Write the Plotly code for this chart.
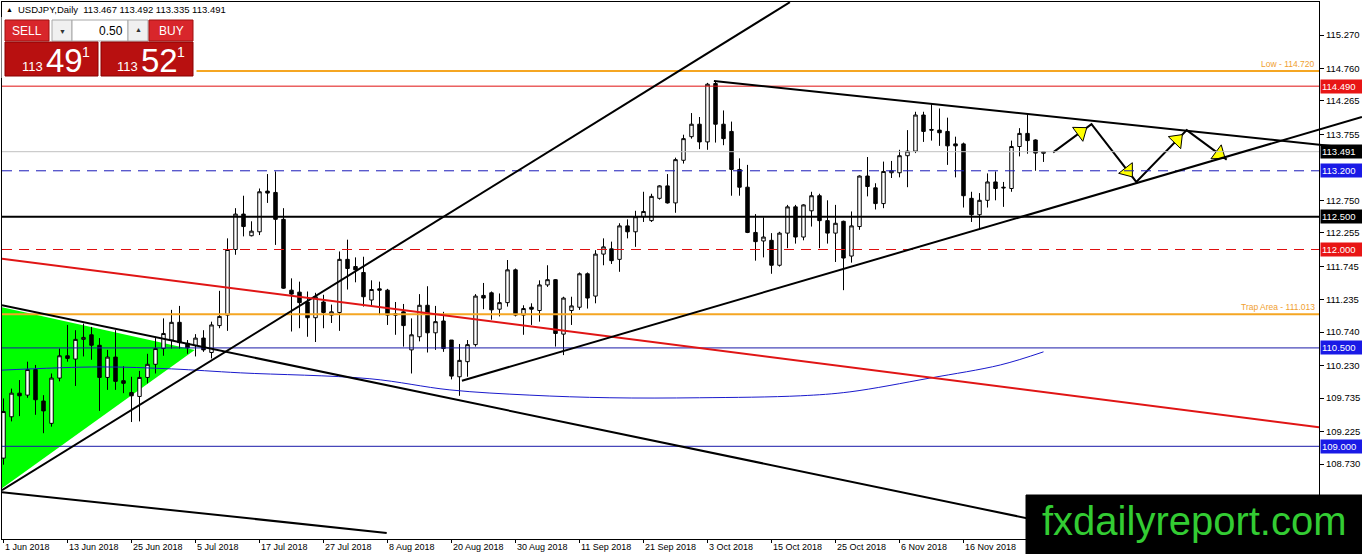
import math
import plotly.graph_objects as go

# USDJPY daily, bar 0 = 1 Jun 2018 ... bar 130 = 30 Nov 2018
opens = [108.82, 109.45, 109.81, 109.78, 110.17, 109.69, 109.35, 110.04, 110.38, 110.33,
         110.63, 110.70, 110.54, 110.05, 110.36, 110.00, 109.82, 109.76, 110.05, 110.25,
         110.49, 110.62, 110.89, 110.57, 110.535, 110.65, 110.43, 110.84, 111.00, 112.00,
         112.54, 112.21, 112.27, 112.89, 112.87, 112.46, 111.38, 111.35, 111.20, 110.96,
         111.20, 111.00, 111.04, 111.85, 111.74, 111.65, 111.23, 111.40, 111.38, 111.02,
         111.05, 110.47, 110.67, 111.15, 110.73, 110.91, 110.62, 110.06, 110.29, 110.55,
         111.30, 111.34, 111.09, 111.19, 111.69, 111.00, 111.12, 111.07, 111.46, 111.54,
         110.71, 111.07, 111.12, 111.63, 111.29, 111.93, 112.01, 111.85, 112.36, 112.27,
         112.50, 112.44, 112.78, 112.97, 112.71, 113.36, 113.72, 113.91, 113.64, 114.53,
         113.91, 113.80, 113.22, 112.95, 112.26, 112.13, 112.14, 111.76, 112.25, 112.65,
         112.19, 112.59, 112.82, 112.44, 112.25, 112.43, 111.90, 112.35, 113.12, 112.94,
         112.70, 113.17, 113.17, 113.43, 113.50, 114.05, 113.83, 113.82, 113.80, 113.61,
         113.61, 112.78, 112.53, 112.75, 113.03, 112.95, 112.93, 113.57, 113.77, 113.67,
         113.467]
highs = [109.73, 109.88, 110.01, 110.29, 110.24, 109.78, 110.11, 110.49, 110.85, 110.77,
         110.87, 110.82, 110.65, 110.47, 110.77, 110.22, 110.06, 110.15, 110.41, 110.65,
         110.95, 111.08, 111.14, 110.62, 110.71, 110.77, 110.90, 111.37, 112.17, 112.63,
         112.82, 112.43, 112.93, 113.15, 113.19, 112.63, 111.56, 111.51, 111.36, 111.34,
         111.31, 111.16, 111.97, 112.15, 111.88, 111.89, 111.53, 111.51, 111.40, 111.20,
         111.17, 110.95, 111.32, 111.44, 111.14, 111.05, 110.62, 110.56, 110.62, 111.32,
         111.49, 111.36, 111.33, 111.84, 111.71, 111.15, 111.18, 111.53, 111.76, 111.55,
         111.28, 111.28, 111.65, 111.65, 111.99, 112.17, 112.12, 112.40, 112.46, 112.59,
         112.88, 112.85, 112.98, 113.15, 113.40, 113.75, 114.08, 114.02, 114.54, 114.56,
         114.12, 113.95, 113.39, 113.29, 112.54, 112.49, 112.25, 112.27, 112.68, 112.68,
         112.69, 112.88, 112.85, 112.75, 112.68, 112.44, 112.58, 113.13, 113.41, 113.01,
         113.34, 113.35, 113.52, 113.82, 114.10, 114.10, 114.22, 114.15, 114.01, 113.72,
         113.63, 112.88, 112.86, 113.16, 113.19, 113.03, 113.66, 113.85, 114.07, 113.68,
         113.492]
lows = [108.72, 109.38, 109.46, 109.74, 109.48, 109.20, 109.30, 109.99, 110.29, 109.92,
        110.37, 110.32, 109.54, 109.86, 109.86, 109.81, 109.37, 109.38, 109.96, 110.11,
        110.38, 110.49, 110.49, 110.41, 110.37, 110.44, 110.34, 110.80, 110.76, 111.92,
        112.20, 112.20, 112.22, 112.71, 112.07, 111.40, 110.75, 110.80, 110.67, 110.59,
        110.80, 110.88, 110.76, 111.39, 111.50, 111.13, 111.13, 111.00, 110.85, 110.70,
        110.52, 110.11, 110.60, 110.43, 110.47, 110.44, 110.02, 109.77, 110.06, 110.52,
        111.09, 110.93, 110.98, 111.13, 110.98, 110.70, 110.85, 110.90, 111.43, 110.52,
        110.39, 110.85, 111.08, 111.10, 111.18, 111.76, 111.78, 111.66, 112.17, 112.04,
        112.42, 112.42, 112.76, 112.70, 112.56, 113.31, 113.69, 113.53, 113.52, 113.63,
        113.59, 112.82, 112.82, 112.25, 111.83, 111.88, 111.63, 111.74, 112.02, 112.09,
        112.14, 112.35, 112.02, 112.09, 111.81, 111.38, 111.80, 112.30, 112.81, 112.61,
        112.63, 113.09, 113.10, 112.95, 113.47, 113.64, 113.66, 113.58, 113.29, 113.10,
        112.64, 112.42, 112.31, 112.64, 112.75, 112.65, 112.88, 113.42, 113.46, 113.20,
        113.335]
closes = [109.53, 109.81, 109.77, 110.17, 109.71, 109.54, 110.04, 110.38, 110.34, 110.63,
          110.66, 110.54, 110.05, 110.36, 109.99, 109.96, 109.77, 110.05, 110.25, 110.49,
          110.72, 110.89, 110.58, 110.50, 110.65, 110.47, 110.85, 110.98, 112.00, 112.54,
          112.35, 112.28, 112.88, 112.86, 112.46, 111.41, 111.32, 111.19, 110.96, 111.28,
          111.04, 111.05, 111.85, 111.71, 111.69, 111.28, 111.39, 111.38, 111.00, 111.00,
          110.84, 110.70, 111.15, 110.73, 110.90, 110.49, 110.07, 110.31, 110.55, 111.29,
          111.26, 111.08, 111.19, 111.69, 111.00, 111.10, 111.09, 111.46, 111.54, 110.72,
          111.26, 111.14, 111.63, 111.26, 111.93, 112.04, 111.83, 112.36, 112.27, 112.50,
          112.58, 112.81, 112.97, 112.71, 113.37, 113.69, 113.91, 113.64, 114.52, 113.91,
          113.69, 113.22, 112.95, 112.26, 112.12, 112.19, 111.76, 112.25, 112.65, 112.19,
          112.68, 112.82, 112.44, 112.25, 112.40, 111.87, 112.36, 113.12, 112.96, 112.70,
          113.19, 113.20, 113.43, 113.50, 114.05, 113.80, 113.82, 113.78, 113.58, 113.58,
          112.82, 112.53, 112.75, 113.03, 112.93, 112.94, 113.57, 113.77, 113.66, 113.47,
          113.491]

date_labels = ["1 Jun 2018", "13 Jun 2018", "25 Jun 2018", "5 Jul 2018", "17 Jul 2018",
               "27 Jul 2018", "8 Aug 2018", "20 Aug 2018", "30 Aug 2018", "11 Sep 2018",
               "21 Sep 2018", "3 Oct 2018", "15 Oct 2018", "25 Oct 2018", "6 Nov 2018",
               "16 Nov 2018"]
date_label_bars = [0, 8, 16, 24, 32, 40, 48, 56, 64, 72, 80, 88, 96, 104, 112, 120]

# visible scale labels (113.245 and 108.220 sit under the tag / logo in the original)
price_ticks = [115.270, 114.760, 114.265, 113.755, 112.750, 112.255, 111.745,
               111.235, 110.740, 110.230, 109.735, 109.225, 108.730]

# moving average (thin blue curve), sampled along the chart
ma_bars = [-0.4, 12, 21, 29.6, 45.8, 55.8, 65.8, 75.8, 87, 99.6, 105.8, 115.8, 124.6, 130]
ma_values = [110.16, 110.21, 110.18, 110.12, 110.03, 109.86, 109.78, 109.74, 109.74,
             109.77, 109.83, 110.04, 110.24, 110.44]

# horizontal levels drawn on the chart
level_prices = [114.720, 114.490, 113.491, 113.200, 112.500, 112.000, 111.013, 110.500, 109.000]
level_names = ["Low - 114.720", "", "", "", "", "", "Trap Area - 111.013", "", ""]
tagged_levels = [114.490, 113.491, 113.200, 112.500, 112.000, 110.500, 109.000]

# trendlines as (bar, price) end points
channel_up = [(-0.19, 108.33), (98.3, 115.77)]
fan_down = [(-0.19, 111.15), (139.9, 107.60)]
base_down = [(-0.19, 108.30), (47.9, 107.68)]
red_down = [(-0.19, 111.86), (164.44, 109.29)]
support_up = [(57.3, 110.00), (169.8, 114.02)]
resist_down = [(88.8, 114.57), (169.8, 113.53)]
green_triangle = [(-0.19, 111.12), (23.9, 110.47), (-0.19, 108.36)]

# projected zig-zag path
path_bars = [131.2, 136.0, 141.6, 147.9, 152.9]
path_prices = [113.48, 113.91, 113.03, 113.82, 113.37]

# ---------------------------------------------------------------- layout maths
W, H = 1362, 554
ML, MR, MT, MB = 2, 43, 2, 15
PW, PH = W - ML - MR, H - MT - MB
X_RANGE = [-0.1875, 164.4375]
Y_RANGE = [107.587, 115.773]
PX_BAR = PW / (X_RANGE[1] - X_RANGE[0])
PX_PRICE = PH / (Y_RANGE[1] - Y_RANGE[0])


def pp(px, py):
    """page pixel -> paper coords"""
    return (px - ML) / PW, (H - MB - py) / PH


def dp(bar, price):
    """data -> paper coords"""
    return ((bar - X_RANGE[0]) / (X_RANGE[1] - X_RANGE[0]),
            (price - Y_RANGE[0]) / (Y_RANGE[1] - Y_RANGE[0]))


shapes = []
annotations = []

# green triangle, behind the candles
shapes.append(dict(type="path", xref="x", yref="y", layer="below",
                   path="M {} {} L {} {} L {} {} Z".format(*[v for pt in green_triangle for v in pt]),
                   fillcolor="#00ff00", line=dict(width=0)))

level_style = {
    114.720: dict(color="#f5a623", width=2, dash="solid"),
    114.490: dict(color="#e01010", width=1, dash="solid"),
    113.491: dict(color="#c0c0c0", width=1, dash="solid"),
    113.200: dict(color="#1a1ab8", width=1, dash="10px,7px"),
    112.500: dict(color="#000000", width=2, dash="solid"),
    112.000: dict(color="#e01010", width=1, dash="10px,7px"),
    111.013: dict(color="#f5a623", width=2, dash="solid"),
    110.500: dict(color="#1a1aa8", width=1, dash="solid"),
    109.000: dict(color="#1a1aa8", width=1, dash="solid"),
}
tag_bg = {114.490: "#e81515", 113.491: "#000000", 113.200: "#1a1ae6", 112.500: "#000000",
          112.000: "#e81515", 110.500: "#1a1ae6", 109.000: "#1a1ae6"}

for p, name in zip(level_prices, level_names):
    shapes.append(dict(type="line", xref="paper", yref="y", x0=0, x1=1, y0=p, y1=p,
                       line=level_style[p], layer="above"))
    if name:
        annotations.append(dict(text=name, xref="paper", yref="y", x=1, y=p, xanchor="right",
                                yanchor="bottom", xshift=-2, yshift=0, showarrow=False,
                                font=dict(size=8.5, color="#f0a030")))

for line, color in [(channel_up, "black"), (fan_down, "black"), (base_down, "black"),
                    (red_down, "#e01515")]:
    (b0, p0), (b1, p1) = line
    shapes.append(dict(type="line", xref="x", yref="y", x0=b0, y0=p0, x1=b1, y1=p1,
                       line=dict(color=color, width=2), layer="above"))

# these two rays run on over the price scale, so draw them in paper space
for line in [support_up, resist_down]:
    (x0, y0), (x1, y1) = dp(*line[0]), dp(*line[1])
    shapes.append(dict(type="line", xref="paper", yref="paper", x0=x0, y0=y0, x1=x1, y1=y1,
                       line=dict(color="black", width=2), layer="above"))

fig = go.Figure()
fig.add_trace(go.Candlestick(
    x=list(range(len(opens))), open=opens, high=highs, low=lows, close=closes,
    increasing=dict(line=dict(color="black", width=1), fillcolor="white"),
    decreasing=dict(line=dict(color="black", width=1), fillcolor="black"),
    whiskerwidth=0, hoverinfo="skip"))

fig.add_trace(go.Scatter(x=ma_bars, y=ma_values, mode="lines", line=dict(color="#1a1acc", width=1, shape="spline"),
                         hoverinfo="skip"))

fig.add_trace(go.Scatter(x=path_bars, y=path_prices, mode="lines", line=dict(color="black", width=2),
                         hoverinfo="skip"))

# yellow arrow heads near the end of each leg
head_x, head_y, head_ang = [], [], []
for i in range(len(path_bars) - 1):
    b0, b1 = path_bars[i], path_bars[i + 1]
    p0, p1 = path_prices[i], path_prices[i + 1]
    t = 0.72 if i == 0 else 0.81
    head_x.append(b0 + t * (b1 - b0))
    head_y.append(p0 + t * (p1 - p0))
    head_ang.append(math.degrees(math.atan2((b1 - b0) * PX_BAR, (p1 - p0) * PX_PRICE)))
fig.add_trace(go.Scatter(x=head_x, y=head_y, mode="markers", hoverinfo="skip",
                         marker=dict(symbol="triangle-up", size=15, angle=head_ang, color="#ffff00",
                                     line=dict(color="black", width=1))))

# price tags on the scale
for p in tagged_levels:
    annotations.append(dict(text="%.3f" % p, xref="paper", yref="y", x=1, y=p, xanchor="left",
                            yanchor="middle", xshift=1, showarrow=False, bgcolor=tag_bg[p],
                            width=40, align="left", borderpad=1,
                            font=dict(size=9.5, color="white")))

# date labels start at their tick like MT4
for b, lab in zip(date_label_bars, date_labels):
    annotations.append(dict(text=lab, xref="x", yref="paper", x=b, y=0, xanchor="left",
                            yanchor="top", xshift=-1, yshift=-1, showarrow=False,
                            font=dict(size=9, color="black")))


def rect(x0, y0, x1, y1, fill, edge=None):
    a, b = pp(x0, y0)
    c, d = pp(x1, y1)
    shapes.append(dict(type="rect", xref="paper", yref="paper", x0=a, y0=b, x1=c, y1=d,
                       fillcolor=fill, layer="above",
                       line=dict(color=edge or fill, width=1)))


def label(txt, px, py, size, color, anchor="center", family=None):
    x, y = pp(px, py)
    f = dict(size=size, color=color)
    if family:
        f["family"] = family
    annotations.append(dict(text=txt, xref="paper", yref="paper", x=x, y=y, xanchor=anchor,
                            yanchor="middle", showarrow=False, font=f, borderpad=0))


# one-click trading panel
rect(2, 17, 196, 78, "white")
rect(5, 20, 49, 41, "#d8262b", "#a01010")
rect(52, 20, 72, 41, "#f0f0f0", "#a8a8a8")
rect(72, 20, 128, 41, "white", "#a8a8a8")
rect(128, 20, 148, 41, "#f0f0f0", "#a8a8a8")
rect(149, 20, 193, 41, "#d8262b", "#a01010")
rect(5, 42, 98, 76, "#b81010", "#8a0000")
rect(101, 42, 193, 76, "#b81010", "#8a0000")

label("SELL", 27, 31, 12, "white")
label("▼", 62, 31, 7, "#333333")
label("0.50", 124, 31, 12, "black", "right")
label("▲", 138, 30, 7, "#333333")
label("BUY", 171, 31, 12, "white")
label("113", 44, 66, 13, "white", "right")
label("49", 45, 60, 33, "white", "left")
label("1", 81, 52, 14, "white", "left")
label("113", 139, 66, 13, "white", "right")
label("52", 140, 60, 33, "white", "left")
label("1", 176, 52, 14, "white", "left")

label("▲", 9, 9, 7, "black")
label("USDJPY,Daily  113.467 113.492 113.335 113.491", 17, 10, 9.5, "black", "left")

# site logo
rect(1026, 495, 1362, 554, "black")
label("fxdailyreport.com", 1194, 521, 40, "#33cc33", "center", "Liberation Sans, Arial")

fig.update_layout(
    width=W, height=H,
    margin=dict(l=ML, r=MR, t=MT, b=MB),
    paper_bgcolor="white", plot_bgcolor="white",
    showlegend=False, boxgap=0.38,
    font=dict(family="Liberation Sans, Arial, sans-serif", size=9, color="black"),
    shapes=shapes, annotations=annotations,
    xaxis=dict(range=X_RANGE, showgrid=False, zeroline=False, showline=True, linecolor="black",
               linewidth=1, mirror=True, ticks="outside", ticklen=3, tickcolor="black",
               tickvals=date_label_bars, showticklabels=False, rangeslider=dict(visible=False),
               fixedrange=True),
    yaxis=dict(range=Y_RANGE, side="right", showgrid=False, zeroline=False, showline=True,
               linecolor="black", linewidth=1, mirror=True, ticks="outside", ticklen=4,
               tickcolor="black", tickvals=price_ticks, ticktext=["%.3f" % v for v in price_ticks],
               tickfont=dict(size=9.5), fixedrange=True),
)

fig.write_html("out.html", config={"displayModeBar": False},
               post_script="document.body.style.margin='0';document.body.style.overflow='hidden';")
